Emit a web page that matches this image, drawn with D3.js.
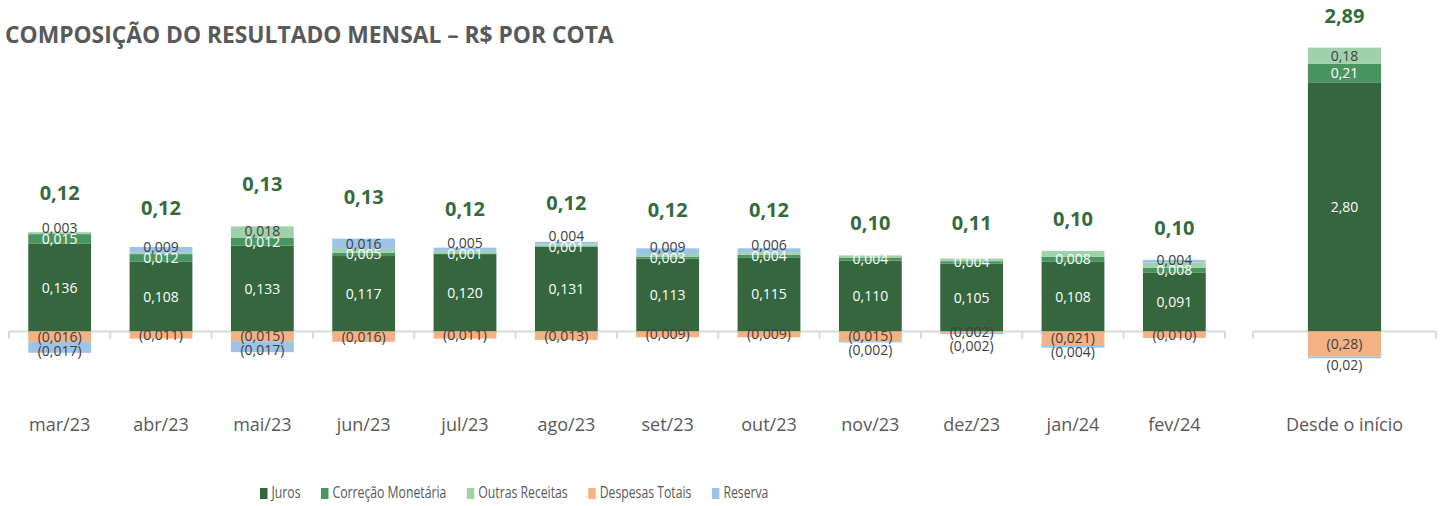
<!DOCTYPE html>
<html>
<head>
<meta charset="utf-8">
<script src="https://cdn.jsdelivr.net/npm/d3@7"></script>
<style>
  body { margin: 0; background: #fff; }
  text { font-family: "Open Sans", sans-serif; }
</style>
</head>
<body>
<svg width="1442" height="506"></svg>
<script>
// monthly values, R$ per quota
const months = ["mar/23", "abr/23", "mai/23", "jun/23", "jul/23", "ago/23",
                "set/23", "out/23", "nov/23", "dez/23", "jan/24", "fev/24"];
const juros    = [0.136, 0.108, 0.133, 0.117, 0.120, 0.131, 0.113, 0.115, 0.110, 0.105, 0.108, 0.091];
const correcao = [0.015, 0.012, 0.012, 0.005, 0.001, 0.001, 0.003, 0.004, 0.004, 0.004, 0.008, 0.008];
const outras   = [0.003, 0.002, 0.018, 0.006, 0.004, 0.003, 0.004, 0.004, 0.004, 0.004, 0.009, 0.008];
const despesas = [-0.016, -0.011, -0.015, -0.016, -0.011, -0.013, -0.009, -0.009, -0.015, -0.002, -0.021, -0.010];
const reserva  = [-0.017, 0.009, -0.017, 0.016, 0.005, 0.004, 0.009, 0.006, -0.002, -0.002, -0.004, 0.004];
const totals   = [0.12, 0.12, 0.13, 0.13, 0.12, 0.12, 0.12, 0.12, 0.10, 0.11, 0.10, 0.10];
// only these months carry a label on "Outras Receitas"
const outrasLabelMonths = ["mar/23", "mai/23"];

// accumulated since inception
const sinceCategory = "Desde o início";
const sinceValues = [2.80, 0.21, 0.18, -0.28, -0.02];
const sinceTotal = 2.89;

const keys = ["Juros", "Correção Monetária", "Outras Receitas", "Despesas Totais", "Reserva"];
const colors = ["#35663e", "#4a955f", "#9fd1aa", "#f4b183", "#9dc3e6"];
const labelColors = ["#ffffff", "#ffffff", "#404040", "#404040", "#404040"];

const svg = d3.select("svg");

const fmt = (v, dec) => {
  const s = Math.abs(v).toFixed(dec).replace(".", ",");
  return v < 0 ? "(" + s + ")" : s;
};

const stack = d3.stack().keys(keys).offset(d3.stackOffsetDiverging);

const monthRows = months.map((m, i) => ({
  cat: m,
  "Juros": juros[i],
  "Correção Monetária": correcao[i],
  "Outras Receitas": outras[i],
  "Despesas Totais": despesas[i],
  "Reserva": reserva[i],
  total: totals[i]
}));
const sinceRows = [Object.assign({ cat: sinceCategory, total: sinceTotal },
  Object.fromEntries(keys.map((k, i) => [k, sinceValues[i]])))];

const xL = d3.scaleBand().domain(months).range([9, 1225]).paddingInner(0.38).paddingOuter(0.19);
const yL = d3.scaleLinear().domain([0, 0.1]).range([331.5, 267]);
const xR = d3.scaleBand().domain([sinceCategory]).range([1253, 1436]).paddingInner(0.6).paddingOuter(0.3);
const yR = d3.scaleLinear().domain([0, 1]).range([331.5, 242.5]);

const panel = (selection, props) => {
  const { rows, x, y, decimals, showLabel, tickAll, negGap } = props;
  const layers = stack(rows);

  // axis line + category ticks
  const [x0, x1] = x.range();
  const bounds = tickAll ? d3.range(rows.length + 1).map(i => x0 + i * x.step()) : [x0, x1];
  selection.append("line")
    .attr("x1", x0).attr("x2", x1)
    .attr("y1", y(0)).attr("y2", y(0))
    .attr("stroke", "#d9d9d9").attr("stroke-width", 2);
  selection.selectAll("line.tick").data(bounds).enter().append("line")
    .attr("class", "tick")
    .attr("x1", d => d).attr("x2", d => d)
    .attr("y1", y(0)).attr("y2", y(0) + 7)
    .attr("stroke", "#d9d9d9").attr("stroke-width", 2);

  // stacked segments
  selection.selectAll("g.layer").data(layers).enter().append("g")
    .attr("class", "layer")
    .attr("fill", (d, i) => colors[i])
    .selectAll("rect").data(d => d).enter().append("rect")
      .attr("x", d => x(d.data.cat))
      .attr("width", x.bandwidth())
      .attr("y", d => y(d[1]))
      .attr("height", d => y(d[0]) - y(d[1]));

  // segment labels, pushed apart when they would collide
  const labels = [];
  rows.forEach((row, j) => {
    let prevUp = Infinity, prevDown = -Infinity;
    layers.forEach((layer, i) => {
      const d = layer[j];
      const v = row[keys[i]];
      if (v <= 0 || !showLabel(keys[i], row.cat)) return;
      let cy = (y(d[0]) + y(d[1])) / 2;
      cy = Math.min(cy, prevUp - 10.5);
      prevUp = cy;
      labels.push({ cat: row.cat, cy, text: fmt(v, decimals), color: labelColors[i] });
    });
    layers.forEach((layer, i) => {
      const d = layer[j];
      const v = row[keys[i]];
      if (v >= 0) return;
      let cy = (y(d[0]) + y(d[1])) / 2;
      cy = Math.max(cy, prevDown + negGap);
      prevDown = cy;
      labels.push({ cat: row.cat, cy, text: fmt(v, decimals), color: labelColors[i] });
    });
  });
  selection.selectAll("text.seg").data(labels).enter().append("text")
    .attr("class", "seg")
    .attr("x", d => x(d.cat) + x.bandwidth() / 2)
    .attr("y", d => d.cy)
    .attr("dy", "0.35em")
    .attr("text-anchor", "middle")
    .attr("font-size", 14)
    .attr("fill", d => d.color)
    .text(d => d.text);

  // totals, centred on an invisible segment stacked on top
  selection.selectAll("text.total").data(rows).enter().append("text")
    .attr("class", "total")
    .attr("x", d => x(d.cat) + x.bandwidth() / 2)
    .attr("y", (d, j) => {
      const top = d3.max(layers, l => l[j][1]);
      return Math.max(y(top + d.total / 2), 16);
    })
    .attr("dy", "0.35em")
    .attr("text-anchor", "middle")
    .attr("font-size", 20)
    .attr("font-weight", "bold")
    .attr("fill", "#336b3d")
    .text(d => fmt(d.total, 2));

  // category labels
  selection.selectAll("text.cat").data(rows).enter().append("text")
    .attr("class", "cat")
    .attr("x", d => x(d.cat) + x.bandwidth() / 2)
    .attr("y", 431)
    .attr("text-anchor", "middle")
    .attr("font-size", 18)
    .attr("fill", "#595959")
    .text(d => d.cat);
};

panel(svg.append("g"), {
  rows: monthRows, x: xL, y: yL, decimals: 3, tickAll: true, negGap: 14,
  showLabel: (k, m) => k !== "Outras Receitas" || outrasLabelMonths.includes(m)
});
panel(svg.append("g"), {
  rows: sinceRows, x: xR, y: yR, decimals: 2, tickAll: false, negGap: 21,
  showLabel: () => true
});

// title
svg.append("text")
  .attr("x", 5).attr("y", 43)
  .attr("font-size", 22.8)
  .attr("font-weight", "bold")
  .attr("fill", "#595959")
  .text("COMPOSIÇÃO DO RESULTADO MENSAL – R$ POR COTA");

// legend
const legend = svg.append("g");
const squeeze = 0.72;
let lx = 260;
keys.forEach((k, i) => {
  legend.append("rect")
    .attr("x", lx).attr("y", 488)
    .attr("width", 7.5).attr("height", 11)
    .attr("fill", colors[i]);
  const t = legend.append("text")
    .attr("transform", `translate(${lx + 11.5},498) scale(${squeeze},1)`)
    .attr("font-size", 17)
    .attr("fill", "#595959")
    .text(k);
  lx += 11.5 + t.node().getComputedTextLength() * squeeze + 20.5;
});
</script>
</body>
</html>
